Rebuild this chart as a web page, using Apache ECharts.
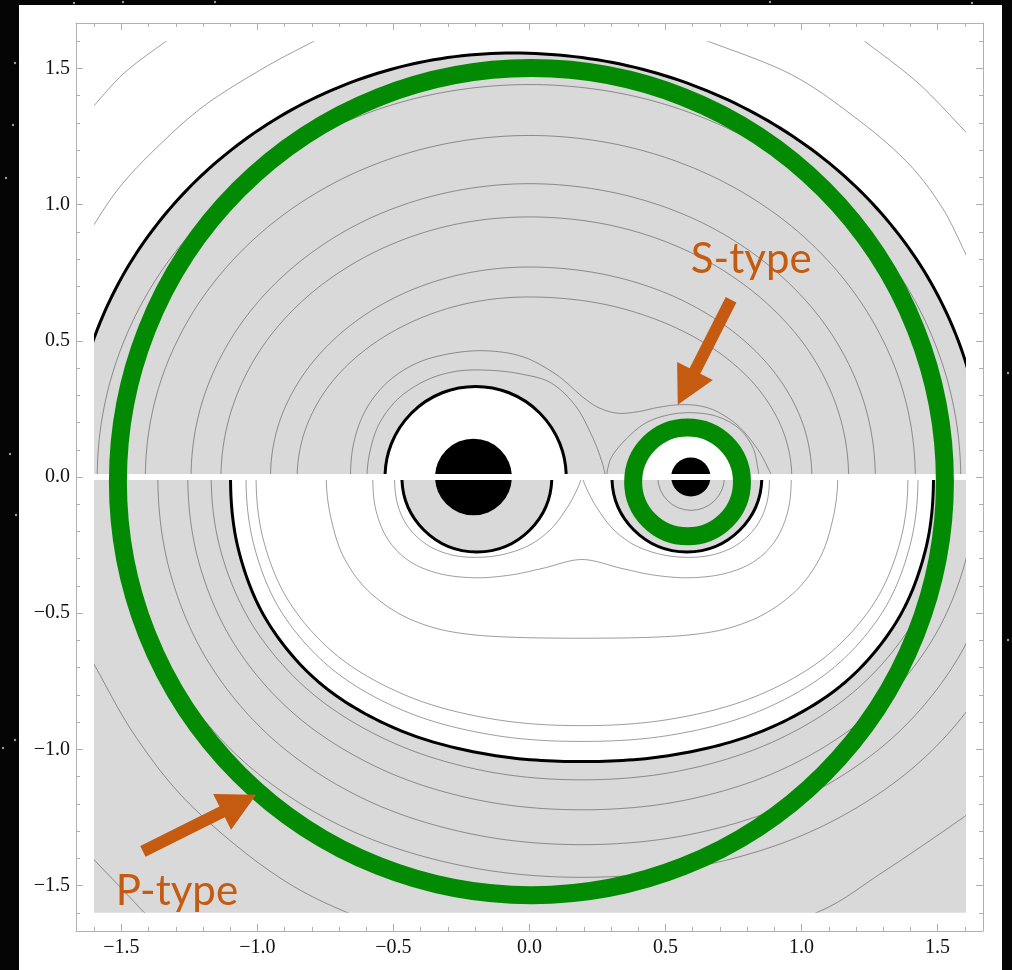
<!DOCTYPE html>
<html>
<head>
<meta charset="utf-8">
<script src="https://cdn.jsdelivr.net/npm/echarts@6/dist/echarts.min.js"></script>
<style>
  html, body { margin: 0; padding: 0; background: #050505; }
  #chart { width: 1012px; height: 970px; }
</style>
</head>
<body>
<div id="chart"></div>
<script>
// ---- tick values ----
const majorTicks = [-1.5, -1.0, -0.5, 0.0, 0.5, 1.0, 1.5];
const minorTicks = [-1.6, -1.4, -1.3, -1.2, -1.1, -0.9, -0.8, -0.7, -0.6, -0.4, -0.3, -0.2, -0.1,
                    0.1, 0.2, 0.3, 0.4, 0.6, 0.7, 0.8, 0.9, 1.1, 1.2, 1.3, 1.4, 1.6];

// ---- upper half (y > 0) ----
const upperBlack = [[-1.635, -0.403], [-1.69, 0], [-1.635, 0.403], [-1.472, 0.779], [-1.212, 1.101], [-0.875, 1.348], [-0.482, 1.504],
  [-0.06, 1.557], [0.388, 1.504], [0.804, 1.348], [1.162, 1.101], [1.436, 0.779], [1.609, 0.403], [1.668, 0], [1.609, -0.403]];
const tlArc1 = [[-1.64, 0.86], [-1.605, 0.92], [-1.51, 1.06], [-1.38, 1.2], [-1.2, 1.36], [-0.98, 1.5], [-0.793, 1.6], [-0.74, 1.63]];
const tlArc2 = [[-1.64, 1.32], [-1.605, 1.359], [-1.489, 1.484], [-1.336, 1.6], [-1.29, 1.63]];
const trArc1 = [[0.6, 1.62], [0.656, 1.6], [0.962, 1.478], [1.207, 1.3125], [1.391, 1.153], [1.514, 0.994], [1.593, 0.841], [1.61, 0.8]];
const trArc2 = [[1.19, 1.63], [1.232, 1.6], [1.428, 1.447], [1.593, 1.278], [1.62, 1.25]];

const upperC1 = [[-1.535, -0.373], [-1.589, 0], [-1.535, 0.373], [-1.376, 0.721], [-1.123, 1.019], [-0.795, 1.248], [-0.412, 1.392], [0, 1.441],
  [0.411, 1.392], [0.793, 1.248], [1.121, 1.019], [1.373, 0.721], [1.531, 0.373], [1.585, 0], [1.531, -0.373]];
const upperC2 = [[-1.364, -0.325], [-1.412, 0], [-1.364, 0.325], [-1.223, 0.627], [-0.998, 0.887], [-0.706, 1.086], [-0.366, 1.211], [0, 1.254],
  [0.367, 1.211], [0.709, 1.086], [1.003, 0.887], [1.228, 0.627], [1.37, 0.325], [1.418, 0], [1.37, -0.325]];
const upperC3 = [[-1.202, -0.279], [-1.244, 0], [-1.202, 0.279], [-1.077, 0.539], [-0.88, 0.761], [-0.622, 0.933], [-0.322, 1.04], [0, 1.077],
  [0.329, 1.04], [0.636, 0.933], [0.899, 0.761], [1.101, 0.539], [1.228, 0.279], [1.271, 0], [1.228, -0.279]];
const upperC4 = [[-1.095, -0.247], [-1.134, 0], [-1.095, 0.247], [-0.982, 0.478], [-0.802, 0.675], [-0.567, 0.827], [-0.294, 0.923], [0, 0.955],
  [0.304, 0.923], [0.587, 0.827], [0.829, 0.675], [1.016, 0.478], [1.133, 0.247], [1.173, 0], [1.133, -0.247]];
const upperC5 = [[-0.92, -0.2], [-0.952, 0], [-0.92, 0.2], [-0.824, 0.386], [-0.673, 0.545], [-0.476, 0.668], [-0.247, 0.745], [0, 0.771],
  [0.269, 0.745], [0.519, 0.668], [0.734, 0.545], [0.899, 0.386], [1.003, 0.2], [1.038, 0], [1.003, -0.2]];
const upperC6 = [[-0.825, -0.171], [-0.854, 0], [-0.825, 0.171], [-0.74, 0.331], [-0.604, 0.467], [-0.427, 0.572], [-0.221, 0.639], [0, 0.661],
  [0.25, 0.639], [0.482, 0.572], [0.682, 0.467], [0.835, 0.331], [0.931, 0.171], [0.964, 0], [0.931, -0.171]];
const upperC7 = [[-0.645, -0.13], [-0.658, 0], [-0.645, 0.13], [-0.6, 0.25], [-0.52, 0.35], [-0.41, 0.42], [-0.28, 0.455], [-0.15, 0.463],
  [-0.02, 0.44], [0.1, 0.375], [0.2, 0.29], [0.26, 0.252], [0.327, 0.234], [0.4, 0.24], [0.47, 0.255], [0.545, 0.265],
  [0.62, 0.262], [0.69, 0.24], [0.77, 0.185], [0.84, 0.1], [0.878, 0.03], [0.89, 0], [0.878, -0.03]];
const upperC8a = [[-0.585, -0.1], [-0.597, 0], [-0.585, 0.1], [-0.55, 0.2], [-0.48, 0.29], [-0.38, 0.355], [-0.27, 0.388], [-0.15, 0.392],
  [-0.03, 0.378], [0.08, 0.345], [0.17, 0.26], [0.23, 0.15], [0.265, 0.06], [0.28, 0]];
const upperC8b = [[0.282, 0], [0.3, 0.07], [0.352, 0.136], [0.425, 0.197], [0.511, 0.228], [0.6, 0.236], [0.69, 0.222],
  [0.77, 0.178], [0.82, 0.11], [0.838, 0.04], [0.842, 0], [0.838, -0.04]];
const upperHoles = [[-0.198, 0, 0.333], [0.59, 0, 0.2]];

// ---- lower half (y < 0) ----
const lowerBlack = [[-1.068, 0.274], [-1.099, 0], [-1.068, -0.274], [-0.959, -0.538], [-0.757, -0.768], [-0.472, -0.932], [-0.145, -1.02],
  [0.193, -1.045], [0.531, -1.02], [0.858, -0.932], [1.143, -0.768], [1.345, -0.538], [1.454, -0.274], [1.485, 0], [1.454, 0.274]];
const lowerIb = [[-1.012, 0.254], [-1.042, 0], [-1.012, -0.254], [-0.909, -0.5], [-0.715, -0.714], [-0.443, -0.866], [-0.131, -0.948],
  [0.193, -0.971], [0.517, -0.948], [0.829, -0.866], [1.101, -0.714], [1.295, -0.5], [1.398, -0.254], [1.428, 0], [1.398, 0.254]];
const lowerIc = [[-0.976, 0.239], [-1.005, 0], [-0.976, -0.239], [-0.876, -0.47], [-0.688, -0.671], [-0.424, -0.814], [-0.121, -0.891],
  [0.193, -0.913], [0.507, -0.891], [0.81, -0.814], [1.074, -0.671], [1.262, -0.47], [1.362, -0.239], [1.391, 0], [1.362, 0.239]];
const lowerId = [[-0.73, 0.15], [-0.747, 0], [-0.73, -0.15], [-0.68, -0.3], [-0.58, -0.43], [-0.42, -0.53], [-0.2, -0.58], [0.193, -0.592],
  [0.586, -0.58], [0.806, -0.53], [0.966, -0.43], [1.066, -0.3], [1.116, -0.15], [1.133, 0], [1.116, 0.15]];
const lowerL7 = [[-0.565, 0.12], [-0.576, 0], [-0.565, -0.12], [-0.52, -0.23], [-0.44, -0.31], [-0.33, -0.355], [-0.2, -0.37], [-0.07, -0.36],
  [0.05, -0.335], [0.193, -0.303], [0.336, -0.335], [0.456, -0.36], [0.586, -0.37], [0.716, -0.355], [0.826, -0.31],
  [0.906, -0.23], [0.951, -0.12], [0.962, 0], [0.951, 0.12]];
const lowerL8a = [[-0.485, 0.1], [-0.496, 0], [-0.485, -0.1], [-0.445, -0.185], [-0.375, -0.25], [-0.29, -0.285], [-0.2, -0.295],
  [-0.1, -0.285], [0.0, -0.25], [0.08, -0.19], [0.14, -0.11], [0.175, -0.045], [0.193, 0]];
const lowerL8b = [[0.193, 0], [0.211, -0.045], [0.246, -0.11], [0.306, -0.19], [0.386, -0.25], [0.486, -0.285], [0.586, -0.295],
  [0.676, -0.285], [0.761, -0.25], [0.831, -0.185], [0.871, -0.1], [0.882, 0], [0.871, 0.1]];
const lowerOa = [[-1.13, 0.289], [-1.17, 0], [-1.13, -0.289], [-1.005, -0.564], [-0.79, -0.802], [-0.499, -0.977], [-0.161, -1.08],
  [0.193, -1.112], [0.547, -1.08], [0.885, -0.977], [1.176, -0.802], [1.391, -0.564], [1.516, -0.289], [1.556, 0], [1.516, 0.289]];
const lowerOb = [[-1.214, 0.318], [-1.256, 0], [-1.214, -0.318], [-1.081, -0.62], [-0.852, -0.881], [-0.542, -1.074], [-0.184, -1.187],
  [0.193, -1.222], [0.57, -1.187], [0.928, -1.074], [1.238, -0.881], [1.467, -0.62], [1.6, -0.318], [1.642, 0], [1.6, 0.318]];
const lowerOc = [[-1.321, 0.351], [-1.366, 0], [-1.321, -0.351], [-1.177, -0.685], [-0.931, -0.973], [-0.598, -1.187], [-0.212, -1.311],
  [0.193, -1.35], [0.598, -1.311], [0.984, -1.187], [1.317, -0.973], [1.563, -0.685], [1.707, -0.351], [1.752, 0]];
const lowerOd = [[-1.458, 0.382], [-1.507, 0], [-1.458, -0.382], [-1.301, -0.746], [-1.033, -1.06], [-0.67, -1.292], [-0.249, -1.427],
  [0.193, -1.47], [0.635, -1.427], [1.056, -1.292], [1.419, -1.06], [1.687, -0.746], [1.844, -0.382]];
const lowerOe = [[-1.62, -0.66], [-1.6, -0.689], [-1.45, -0.95], [-1.25, -1.2], [-0.95, -1.45], [-0.668, -1.6], [-0.3, -1.72],
  [0.193, -1.76], [0.7, -1.7], [1.054, -1.6], [1.3, -1.45], [1.6, -1.246], [1.65, -1.2]];
const lowerOf = [[-1.65, -1.35], [-1.6, -1.406], [-1.51, -1.5], [-1.415, -1.6], [-1.35, -1.66]];
const lowerDiscs = [[-0.1935, 0, 0.2755], [0.5785, 0, 0.2755]];
const lowerSmall = [[0.594, 0, 0.1226]];

// ---- stars, orbits, annotations ----
const stars = [[-0.206, 0, 0.141], [0.593, 0, 0.072]];
const orbits = [[0.007, -0.017, 1.52], [0.581, -0.018, 0.2]];
const arrows = [[0.741, 0.651, 0.545, 0.265], [-1.421, -1.375, -1.005, -1.167]];
const labelText = ['S-type', 'P-type'];
const labelPos = [[0.815, 0.798], [-1.296, -1.522]];
const skyDots = [[15, 63], [13, 125], [6, 178], [74, 3], [123, 2], [215, 2], [10, 454], [16, 515], [3, 748], [15, 740],
  [1008, 373], [972, 3], [770, 2], [1008, 640]];

// ---- layout ----
const LIM = 1.667, EDGE = 1.6, GAP = 0.011;
const FRAME = { left: 76, top: 23, width: 907, height: 908 };
const sx = FRAME.width / (2 * LIM), sy = FRAME.height / (2 * LIM);
const UP = 4, LO = 5;

const GRAY = '#d9d9d9';
const CONTOUR = 'rgba(60,60,60,0.5)';
const GREEN = '#038a03';
const ORANGE = '#c55a11';
const AXIS = '#b0b0b0';

const fmt = v => v.toFixed(1).replace('-', '\u2212');

function xAx(pos, ticks, len, line, labels) {
  return {
    gridIndex: 0, type: 'value', min: -LIM, max: LIM, position: pos,
    axisLine: { show: line, onZero: false, lineStyle: { color: AXIS, width: 1 } },
    axisTick: { show: true, inside: true, length: len, customValues: ticks, lineStyle: { color: AXIS } },
    axisLabel: labels ? { customValues: majorTicks, formatter: fmt, color: '#111', fontFamily: 'Liberation Serif', fontSize: 20, margin: 7 } : { show: false },
    splitLine: { show: false }
  };
}
function yAx(pos, ticks, len, line, labels) {
  const a = xAx(pos, ticks, len, line, labels);
  if (labels) a.axisLabel.margin = 6;
  return a;
}
function hidden(g, min, max) {
  return { gridIndex: g, type: 'value', min, max, show: false, axisLine: { onZero: false } };
}

// smooth curve through pixel points (Catmull-Rom as cubic Bezier, sampled)
function spline(p, n) {
  const out = [p[0]];
  for (let i = 0; i < p.length - 1; i++) {
    const p0 = p[i - 1] || p[i], p1 = p[i], p2 = p[i + 1], p3 = p[i + 2] || p[i + 1];
    const c1 = [p1[0] + (p2[0] - p0[0]) / 6, p1[1] + (p2[1] - p0[1]) / 6];
    const c2 = [p2[0] - (p3[0] - p1[0]) / 6, p2[1] - (p3[1] - p1[1]) / 6];
    for (let k = 1; k <= n; k++) {
      const t = k / n, s = 1 - t;
      out.push([
        s * s * s * p1[0] + 3 * s * s * t * c1[0] + 3 * s * t * t * c2[0] + t * t * t * p2[0],
        s * s * s * p1[1] + 3 * s * s * t * c1[1] + 3 * s * t * t * c2[1] + t * t * t * p2[1]
      ]);
    }
  }
  return out;
}

function curve(points, g, color, width, z) {
  return { type: 'custom', xAxisIndex: g, yAxisIndex: g, clip: true, silent: true, z, data: [points[0]],
    renderItem(params, api) {
      const px = spline(points.map(p => api.coord(p)), 16);
      return { type: 'polyline', shape: { points: px }, style: { fill: 'none', stroke: color, lineWidth: width } };
    } };
}
function area(before, curvePts, after, g, fill, z) {
  return { type: 'custom', xAxisIndex: g, yAxisIndex: g, clip: true, silent: true, z, data: [[0, 0]],
    renderItem(params, api) {
      const pts = before.map(p => api.coord(p))
        .concat(curvePts.length ? spline(curvePts.map(p => api.coord(p)), 16) : [])
        .concat(after.map(p => api.coord(p)));
      return { type: 'polygon', shape: { points: pts }, style: { fill } };
    } };
}
function circles(list, g, style, z) {
  return { type: 'custom', xAxisIndex: g, yAxisIndex: g, clip: true, silent: true, z, data: list,
    renderItem(params, api) {
      const c = api.coord([api.value(0), api.value(1)]);
      const r = api.size([api.value(2), 0])[0];
      return { type: 'circle', shape: { cx: c[0], cy: c[1], r }, style };
    } };
}

const series = [
  // fills
  area([[-1.75, -0.5]], upperBlack, [[1.75, -0.5]], UP, GRAY, 1),
  area([[-1.75, 0.1], [1.75, 0.1], [1.75, -1.75], [-1.75, -1.75]], [], [], LO, GRAY, 1),
  area([], lowerBlack, [], LO, '#ffffff', 1),
  circles(upperHoles, UP, { fill: '#fff', stroke: '#000', lineWidth: 3 }, 2),
  circles(lowerDiscs, LO, { fill: GRAY, stroke: '#000', lineWidth: 3 }, 2),
  // contours, upper
  ...[tlArc1, tlArc2, trArc1, trArc2, upperC1, upperC2, upperC3, upperC4, upperC5, upperC6, upperC7, upperC8a, upperC8b]
    .map(d => curve(d, UP, CONTOUR, 1, 3)),
  // contours, lower
  ...[lowerIb, lowerIc, lowerId, lowerL7, lowerL8a, lowerL8b, lowerOa, lowerOb, lowerOc, lowerOd, lowerOe, lowerOf]
    .map(d => curve(d, LO, CONTOUR, 1, 3)),
  circles(lowerSmall, LO, { fill: 'none', stroke: CONTOUR, lineWidth: 1 }, 3),
  // zero-velocity curves
  curve(upperBlack, UP, '#000', 3, 4),
  curve(lowerBlack, LO, '#000', 3, 4),
  // stars
  circles(stars, UP, { fill: '#000' }, 5),
  circles(stars, LO, { fill: '#000' }, 5),
  // orbits
  { type: 'custom', xAxisIndex: 0, yAxisIndex: 0, silent: true, z: 6, data: orbits,
    renderItem(params, api) {
      const c = api.coord([api.value(0), api.value(1)]);
      const r = api.size([api.value(2), 0])[0];
      return { type: 'circle', shape: { cx: c[0], cy: c[1], r }, style: { fill: 'none', stroke: GREEN, lineWidth: 18 } };
    } },
  // arrows
  { type: 'custom', xAxisIndex: 0, yAxisIndex: 0, silent: true, z: 7, data: arrows,
    renderItem(params, api) {
      const p0 = api.coord([api.value(0), api.value(1)]);
      const p1 = api.coord([api.value(2), api.value(3)]);
      const dx = p1[0] - p0[0], dy = p1[1] - p0[1], L = Math.hypot(dx, dy);
      const ux = dx / L, uy = dy / L, nx = -uy, ny = ux;
      const hw = 6, HW = 20, HL = 38;
      const bx = p1[0] - ux * HL, by = p1[1] - uy * HL;
      const pts = [
        [p0[0] + nx * hw, p0[1] + ny * hw], [bx + nx * hw, by + ny * hw], [bx + nx * HW, by + ny * HW],
        p1, [bx - nx * HW, by - ny * HW], [bx - nx * hw, by - ny * hw], [p0[0] - nx * hw, p0[1] - ny * hw]
      ];
      return { type: 'polygon', shape: { points: pts }, style: { fill: ORANGE } };
    } },
  // labels
  { type: 'custom', xAxisIndex: 0, yAxisIndex: 0, silent: true, z: 8, data: labelPos,
    renderItem(params, api) {
      const c = api.coord([api.value(0), api.value(1)]);
      return { type: 'text', x: c[0], y: c[1],
        style: { text: labelText[params.dataIndex], fill: ORANGE, fontSize: 42, fontFamily: 'Lato', align: 'center', verticalAlign: 'middle' } };
    } }
];

const option = {
  animation: false,
  backgroundColor: '#050505',
  graphic: [
    { type: 'rect', z: -10, shape: { x: 19, y: 5, width: 983, height: 970 }, style: { fill: '#fff' } },
    ...skyDots.map(p => ({ type: 'circle', z: -10, shape: { cx: p[0], cy: p[1], r: 1.2 }, style: { fill: 'rgba(255,255,255,0.6)' } }))
  ],
  grid: [
    { left: FRAME.left, top: FRAME.top, width: FRAME.width, height: FRAME.height },
    { left: FRAME.left + (LIM - EDGE) * sx, top: FRAME.top + (LIM - EDGE) * sy, width: 2 * EDGE * sx, height: (EDGE - GAP) * sy },
    { left: FRAME.left + (LIM - EDGE) * sx, top: FRAME.top + (LIM + GAP) * sy, width: 2 * EDGE * sx, height: (EDGE - GAP) * sy }
  ],
  xAxis: [
    xAx('bottom', majorTicks, 7, true, true),
    xAx('bottom', minorTicks, 4, false, false),
    xAx('top', majorTicks, 7, true, false),
    xAx('top', minorTicks, 4, false, false),
    hidden(1, -EDGE, EDGE),
    hidden(2, -EDGE, EDGE)
  ],
  yAxis: [
    yAx('left', majorTicks, 7, true, true),
    yAx('left', minorTicks, 4, false, false),
    yAx('right', majorTicks, 7, true, false),
    yAx('right', minorTicks, 4, false, false),
    hidden(1, GAP, EDGE),
    hidden(2, -EDGE, -GAP)
  ],
  series
};

const chart = echarts.init(document.getElementById('chart'));
chart.setOption(option);
</script>
</body>
</html>
